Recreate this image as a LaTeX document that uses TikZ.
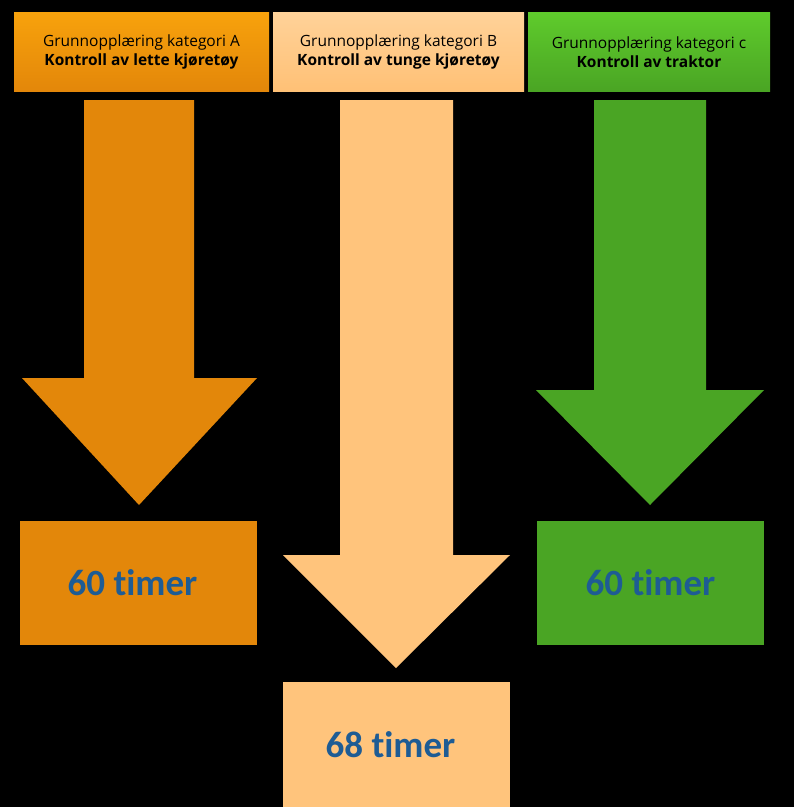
\documentclass[tikz,border=0pt]{standalone}
\usepackage{fontspec}
\setmainfont[RawFeature=-liga]{Carlito}
\newfontfamily\hdrfont{Open Sans}
\begin{document}
\begin{tikzpicture}[x=1pt,y=-1pt,
  hdr/.style={draw=none,minimum height=78pt,align=center,font=\hdrfont\fontsize{15.5}{19}\selectfont,text=black,inner sep=0pt},
  res/.style={draw=none,minimum height=124pt,text=timerblue,font=\fontsize{37}{40}\selectfont\bfseries,inner sep=0pt}]
\definecolor{oA}{HTML}{E3870A}
\definecolor{oAtop}{HTML}{F8A20C}
\definecolor{oB}{HTML}{FFC47C}
\definecolor{oBtop}{HTML}{FFD299}
\definecolor{gC}{HTML}{4AA524}
\definecolor{gCtop}{HTML}{5FCB2C}
\definecolor{timerblue}{HTML}{1E5C94}
\fill[black] (0,0) rectangle (794,807);
\useasboundingbox (0,0) rectangle (794,807);
% header boxes
\shade[top color=oAtop,bottom color=oA] (14,12) rectangle (269,91);
\shade[top color=oBtop,bottom color=oB!95!orange] (273,12) rectangle (524,91);
\shade[top color=gCtop,bottom color=gC] (528,12) rectangle (770,91);
\node[hdr,minimum width=255pt] (hA) at (141.5,52) {Grunnopplæring kategori A\\\textbf{Kontroll av lette kjøretøy}};
\node[hdr,minimum width=251pt] (hB) at (398.5,52) {Grunnopplæring kategori B\\\textbf{Kontroll av tunge kjøretøy}};
\node[hdr,minimum width=242pt] (hC) at (649,52) {Grunnopplæring kategori c\\\textbf{Kontroll av traktor}};
% arrows
\fill[oA] (84,100) -- (194,100) -- (194,378) -- (257,378) -- (139,505) -- (22,378) -- (84,378) -- cycle;
\fill[oB] (340,100) -- (453,100) -- (453,555) -- (510,555) -- (396,668) -- (283,555) -- (340,555) -- cycle;
\fill[gC] (594,100) -- (706,100) -- (706,390) -- (764,390) -- (650,505) -- (536,390) -- (594,390) -- cycle;
% result boxes
\node[res,fill=oA,minimum width=237pt] (rA) at (138.5,583) {\hspace*{-12pt}60 timer};
\node[res,fill=oB,minimum width=227pt,minimum height=125pt] (rB) at (396.5,744.5) {\hspace*{-12pt}68 timer};
\node[res,fill=gC,minimum width=227pt] (rC) at (650.5,583) {60 timer};
\end{tikzpicture}
\end{document}
